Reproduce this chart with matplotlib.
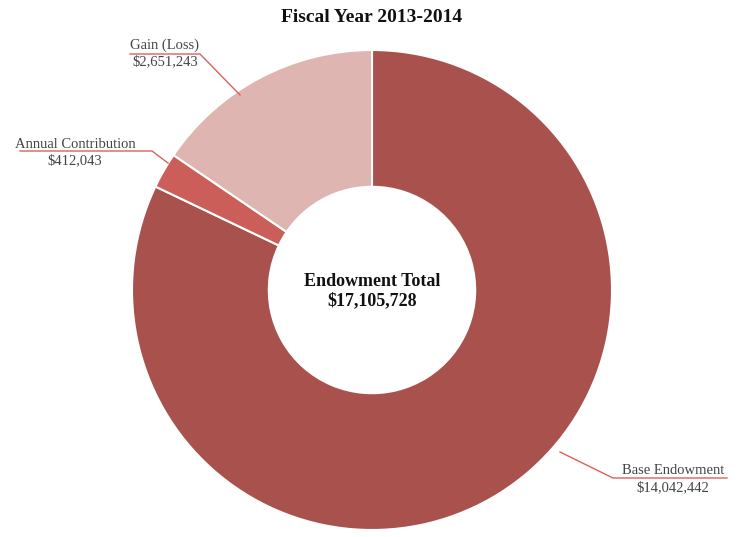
import matplotlib.pyplot as plt

# Endowment breakdown, fiscal year 2013-2014
categories = ["Base Endowment", "Annual Contribution", "Gain (Loss)"]
values = [14042442, 412043, 2651243]
colors = ["#A9514D", "#CC5E5A", "#DFB5B1"]
total = 17105728

W, H = 743, 537
fig = plt.figure(figsize=(W / 100, H / 100), dpi=100)
ax = fig.add_axes([0, 0, 1, 1])

cx, cy, r = 372, H - 290, 240
ax.pie(values, colors=colors, startangle=90, counterclock=False,
       center=(cx, cy), radius=r, frame=True,
       wedgeprops=dict(width=r * 0.57, edgecolor="white", linewidth=1.5))
ax.set_xlim(0, W)
ax.set_ylim(0, H)
ax.set_aspect("equal")
ax.axis("off")

serif = ["Liberation Serif", "DejaVu Serif"]
ax.text(cx, H - 18, "Fiscal Year 2013-2014", ha="center", va="center",
        fontsize=14, fontweight="bold", family=serif, color="#111111")
ax.text(cx, H - 282, "Endowment Total", ha="center", va="center",
        fontsize=13, fontweight="bold", family=serif, color="#111111")
ax.text(cx, H - 301, "${:,}".format(total), ha="center", va="center",
        fontsize=13, fontweight="bold", family=serif, color="#111111")

line_col = "#D9615C"
txt_col = "#444444"


def label(name, value, tx, ty, line_pts):
    xs = [p[0] for p in line_pts]
    ys = [H - p[1] for p in line_pts]
    ax.plot(xs, ys, color=line_col, lw=1)
    ax.text(tx, H - ty, name, ha="center", va="center", fontsize=10.5,
            family=serif, color=txt_col)
    ax.text(tx, H - ty - 16.5, "${:,}".format(value), ha="center", va="center",
            fontsize=10.5, family=serif, color=txt_col)


label(categories[2], values[2], 165, 45, [(130, 54), (200, 54), (240, 95)])
label(categories[1], values[1], 75, 144, [(20, 151), (152, 151), (168, 163)])
label(categories[0], values[0], 673, 471, [(560, 452), (613, 478), (727, 478)])

fig.savefig("out.png", dpi=100)
